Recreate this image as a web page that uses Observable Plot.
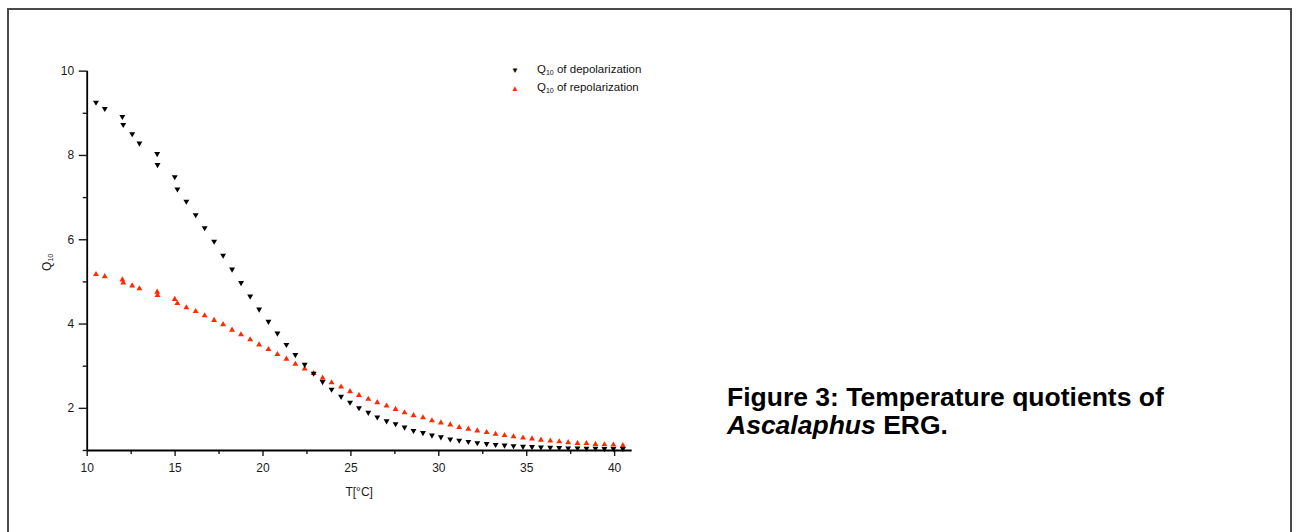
<!DOCTYPE html>
<html>
<head>
<meta charset="utf-8">
<script src="https://cdn.jsdelivr.net/npm/d3@7"></script>
<script src="https://cdn.jsdelivr.net/npm/@observablehq/plot@0.6"></script>
<style>
  html, body { margin: 0; padding: 0; background: #fff; }
  #page { position: relative; width: 1298px; height: 532px; overflow: hidden; background: #fff;
          font-family: "Liberation Sans", Arial, sans-serif; }
  #border { position: absolute; left: 7px; top: 8px; width: 1285px; height: 560px;
            border: 2px solid #4a4a4a; box-sizing: border-box; }
  #chart { position: absolute; left: 0; top: 0; }
  #legend { position: absolute; left: 509px; top: 61px; font-size: 11.5px; color: #111; line-height: 17.5px; }
  #legend .row { white-space: nowrap; height: 17.5px; }
  #legend .sym { display: inline-block; width: 26px; font-size: 8px; text-align: left; padding-left: 2px; line-height: 0; }
  #legend sub { font-size: 7px; vertical-align: -2px; line-height: 0; }
  #caption { position: absolute; left: 727px; top: 383px; font-size: 26.5px; font-weight: bold;
             line-height: 28px; color: #000; }
</style>
</head>
<body>
<div id="page">
  <div id="border"></div>
  <div id="chart"></div>
  <div id="legend">
    <div class="row"><span class="sym" style="color:#000">▼</span>Q<sub>10</sub> of depolarization</div>
    <div class="row"><span class="sym" style="color:#ff2a00">▲</span>Q<sub>10</sub> of repolarization</div>
  </div>
  <div id="caption">Figure 3: Temperature quotients of<br><i>Ascalaphus</i> ERG.</div>
</div>
<script>
// Temperatures (°C) shared by both series
const temperature = [10.5, 11.0, 12.0, 12.05, 12.56, 12.97, 13.98, 14.0, 14.98, 15.13,
  15.64, 16.17, 16.68, 17.22, 17.73, 18.24, 18.75, 19.27, 19.78, 20.31,
  20.82, 21.33, 21.84, 22.37, 22.88, 23.39, 23.9, 24.44, 24.95, 25.46,
  25.99, 26.5, 27.03, 27.54, 28.05, 28.56, 29.1, 29.61, 30.12, 30.65,
  31.16, 31.68, 32.19, 32.72, 33.23, 33.74, 34.25, 34.79, 35.3, 35.81,
  36.34, 36.85, 37.36, 37.89, 38.4, 38.91, 39.42, 39.93, 40.47];
// Q10 of depolarization
const depolarization = [9.26, 9.11, 8.92, 8.73, 8.51, 8.29, 8.04, 7.78, 7.49, 7.2,
  6.91, 6.59, 6.28, 5.96, 5.63, 5.3, 4.98, 4.66, 4.35, 4.06,
  3.78, 3.51, 3.27, 3.04, 2.83, 2.63, 2.45, 2.28, 2.14, 2.01,
  1.9, 1.79, 1.7, 1.63, 1.55, 1.47, 1.42, 1.36, 1.32, 1.27,
  1.24, 1.21, 1.18, 1.16, 1.14, 1.125, 1.11, 1.095, 1.09, 1.08,
  1.07, 1.065, 1.055, 1.055, 1.05, 1.05, 1.04, 1.04, 1.04];
// Q10 of repolarization
const repolarization = [5.18, 5.13, 5.05, 4.98, 4.91, 4.84, 4.76, 4.68, 4.59, 4.49,
  4.39, 4.3, 4.2, 4.09, 3.99, 3.86, 3.75, 3.63, 3.51, 3.4,
  3.28, 3.17, 3.05, 2.94, 2.83, 2.72, 2.61, 2.51, 2.4, 2.31,
  2.22, 2.14, 2.06, 1.98, 1.9, 1.83, 1.78, 1.71, 1.66, 1.61,
  1.55, 1.51, 1.47, 1.43, 1.39, 1.36, 1.33, 1.3, 1.28, 1.25,
  1.23, 1.21, 1.19, 1.17, 1.17, 1.15, 1.14, 1.135, 1.12];

const xMajorTicks = [10, 15, 20, 25, 30, 35, 40];
const xMinorTicks = [12.5, 17.5, 22.5, 27.5, 32.5, 37.5];
const yMajorTicks = [2, 4, 6, 8, 10];
const yMinorTicks = [1, 3, 5, 7, 9];
const xTitle = "T[°C]";

const rows = temperature.map((t, i) => ({T: t, depol: depolarization[i], repol: repolarization[i]}));

const chart = Plot.plot({
  width: 700,
  height: 500,
  marginLeft: 86.7,
  marginRight: 68.3,
  marginTop: 70.65,
  marginBottom: 50,
  x: {domain: [10, 41], label: null},
  y: {domain: [1, 10], label: null},
  style: {fontFamily: "'Liberation Sans', Arial, sans-serif", fontSize: "12px", color: "#1a1a1a", background: "transparent", overflow: "visible"},
  marks: [
    Plot.axisX(xMajorTicks, {tickSize: 6, tickPadding: 7, strokeWidth: 1.4, label: null, tickFormat: d => String(d)}),
    Plot.axisX(xMinorTicks, {tickSize: 4, strokeWidth: 1.4, label: null, tickFormat: () => ""}),
    Plot.axisY(yMajorTicks, {tickSize: 8, tickPadding: 5, strokeWidth: 1.4, label: null, tickFormat: d => String(d)}),
    Plot.axisY(yMinorTicks, {tickSize: 4, strokeWidth: 1.4, label: null, tickFormat: () => ""}),
    Plot.ruleY([1], {stroke: "#000", strokeWidth: 1.8}),
    Plot.ruleX([10], {stroke: "#000", strokeWidth: 1.8}),
    Plot.dot(rows, {x: "T", y: "repol", symbol: "triangle", r: 2.2, fill: "#ff2a00", stroke: "none"}),
    Plot.dot(rows, {x: "T", y: "depol", symbol: "triangle", rotate: 180, r: 2.2, fill: "#000", stroke: "none"})
  ]
});

document.getElementById("chart").appendChild(chart);

// Axis titles
const svg = d3.select(chart);
const xs = chart.scale("x"), ys = chart.scale("y");
const xMid = (xs.range[0] + xs.range[1]) / 2;
svg.append("text")
  .attr("x", xMid).attr("y", 496)
  .attr("text-anchor", "middle")
  .attr("font-size", 12).attr("fill", "#1a1a1a")
  .text(xTitle);
const yMid = (ys.range[0] + ys.range[1]) / 2 + 2;
const yt = svg.append("text")
  .attr("transform", `translate(51,${yMid}) rotate(-90)`)
  .attr("text-anchor", "middle")
  .attr("font-size", 12).attr("fill", "#1a1a1a");
yt.append("tspan").text("Q");
yt.append("tspan").attr("font-size", 7).attr("dy", 2).text("10");
</script>
</body>
</html>
